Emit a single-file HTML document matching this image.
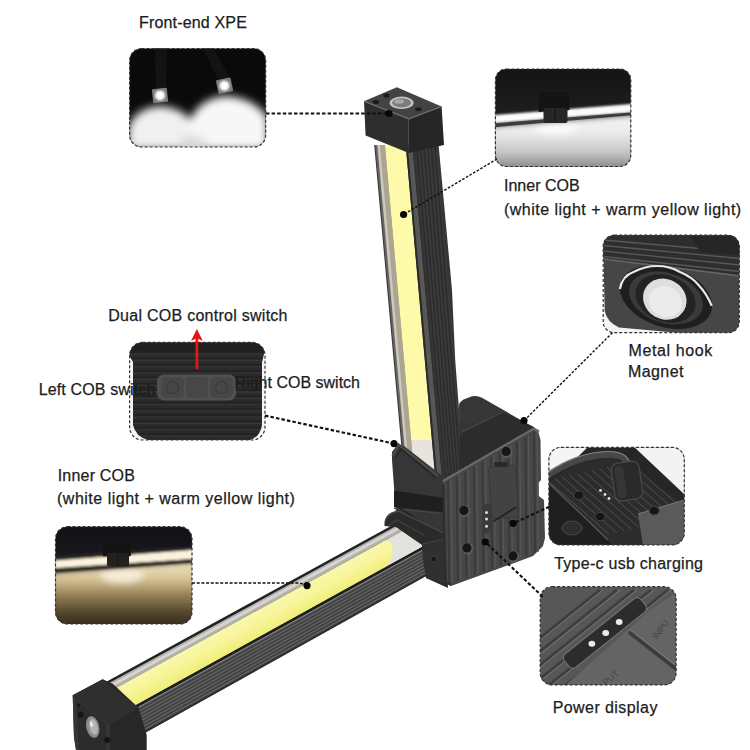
<!DOCTYPE html>
<html><head><meta charset="utf-8"><style>
html,body{margin:0;padding:0;background:#fff;}
svg{display:block;}
text{font-family:"Liberation Sans",sans-serif;font-size:16px;fill:#1c1c1c;stroke:#1c1c1c;stroke-width:0.25px;}
</style></head><body>
<svg width="750" height="750" viewBox="0 0 750 750">
<defs><filter id="blur4" x="-50%" y="-50%" width="200%" height="200%"><feGaussianBlur stdDeviation="6"/></filter>
<filter id="blur2"><feGaussianBlur stdDeviation="2"/></filter>
<filter id="blur1" x="-20%" y="-20%" width="140%" height="140%"><feGaussianBlur stdDeviation="0.8"/></filter>
<filter id="blur3" x="-20%" y="-20%" width="140%" height="140%"><feGaussianBlur stdDeviation="3"/></filter>
<filter id="blur5" x="-30%" y="-30%" width="160%" height="160%"><feGaussianBlur stdDeviation="4.5"/></filter>
<filter id="blur6" x="-50%" y="-50%" width="200%" height="200%"><feGaussianBlur stdDeviation="7"/></filter></defs>
<rect width="750" height="750" fill="#fff"/>
<defs>
<linearGradient id="ribV" x1="0" x2="1" y1="0" y2="0"><stop offset="0" stop-color="#4a4a4a"/><stop offset="0.15" stop-color="#333"/><stop offset="1" stop-color="#2a2a2a"/></linearGradient>
<linearGradient id="yelV" x1="0" x2="0" y1="0" y2="1"><stop offset="0" stop-color="#f3ec9c"/><stop offset="0.85" stop-color="#f2e98e"/><stop offset="1" stop-color="#e9e6d8"/></linearGradient>
<linearGradient id="yelD" gradientUnits="userSpaceOnUse" x1="260" y1="606" x2="272.5" y2="629"><stop offset="0" stop-color="#faf8b0"/><stop offset="0.5" stop-color="#f8f59c"/><stop offset="1" stop-color="#f0ee7c"/></linearGradient>
</defs>
<polygon points="374.2,145.0 438.6,145.0 452.0,290.0 455.2,360.0 462.8,460.0 464.0,480.0 404.4,480.0" fill="#363636"/>
<polygon points="375.2,145.0 384.9,145.0 414.7,480.0 405.4,480.0" fill="#666462"/>
<polygon points="377.2,145.0 384.9,145.0 414.7,480.0 407.4,480.0" fill="#aca591"/>
<polygon points="377.6,145.0 379.9,145.0 410.0,480.0 407.8,480.0" fill="#cdc9c0"/>
<polygon points="384.9,145.0 405.7,145.0 431.9,440.0 411.1,440.0" fill="#fdfbaa"/>
<polygon points="411.1,440.0 431.9,440.0 435.5,480.0 414.7,480.0" fill="#e6e4dc"/>
<polygon points="405.7,145.0 407.7,145.0 437.5,480.0 435.5,480.0" fill="#2a2a2a"/>
<polygon points="407.7,145.0 412.4,145.0 442.2,480.0 437.5,480.0" fill="#575757"/>
<polygon points="412.4,145.0 413.4,145.0 443.2,480.0 442.2,480.0" fill="#2e2e2e"/>
<line x1="416.6" y1="145" x2="445.7" y2="480" stroke="#2a2a2a" stroke-width="1.1"/>
<line x1="418.2" y1="145" x2="447.3" y2="480" stroke="#3f3f3f" stroke-width="0.8"/>
<line x1="420.2" y1="145" x2="448.8" y2="480" stroke="#2a2a2a" stroke-width="1.1"/>
<line x1="421.8" y1="145" x2="450.4" y2="480" stroke="#3f3f3f" stroke-width="0.8"/>
<line x1="423.9" y1="145" x2="451.8" y2="480" stroke="#2a2a2a" stroke-width="1.1"/>
<line x1="425.5" y1="145" x2="453.4" y2="480" stroke="#3f3f3f" stroke-width="0.8"/>
<line x1="427.6" y1="145" x2="454.9" y2="480" stroke="#2a2a2a" stroke-width="1.1"/>
<line x1="429.2" y1="145" x2="456.5" y2="480" stroke="#3f3f3f" stroke-width="0.8"/>
<line x1="431.3" y1="145" x2="457.9" y2="480" stroke="#2a2a2a" stroke-width="1.1"/>
<line x1="432.9" y1="145" x2="459.5" y2="480" stroke="#3f3f3f" stroke-width="0.8"/>
<line x1="434.9" y1="145" x2="461.0" y2="480" stroke="#2a2a2a" stroke-width="1.1"/>
<line x1="436.5" y1="145" x2="462.6" y2="480" stroke="#3f3f3f" stroke-width="0.8"/>
<polygon points="364.0,101.2 408.8,118.8 408.8,153.0 365.6,135.6" fill="#2e2e2e"/>
<polygon points="408.8,118.8 441.6,106.5 444.0,145.0 408.8,153.0" fill="#262626"/>
<polygon points="364.0,101.2 396.8,87.3 441.6,106.5 408.8,118.8" fill="#434343"/>
<polyline points="364.0,101.2 408.8,118.8 441.6,106.5" fill="none" stroke="#707070" stroke-width="1.2"/>
<ellipse cx="401.6" cy="102.8" rx="12" ry="6.2" fill="#c4c4c4"/><ellipse cx="401.6" cy="102.8" rx="9.5" ry="4.6" fill="#7c7c7c"/><ellipse cx="399" cy="101.5" rx="5" ry="2.2" fill="#a8a8a8"/>
<ellipse cx="376" cy="102" rx="3.2" ry="2" fill="#1a1a1a"/><ellipse cx="386.4" cy="95.6" rx="3.2" ry="2" fill="#1a1a1a"/><ellipse cx="418.4" cy="109.2" rx="3.2" ry="2" fill="#1a1a1a"/>
<polygon points="105.0,682.4 428.0,505.7 428.0,574.7 105.0,755.0" fill="#222"/>
<polygon points="105.0,685.3 428.0,508.5 428.0,516.7 105.0,694.0" fill="#b4b2ac"/>
<polygon points="105.0,687.5 428.0,510.5 428.0,513.6 105.0,690.7" fill="#d8d6d2"/>
<polygon points="383.0,541.4 428.0,516.7 428.0,543.7 383.0,568.5" fill="#e2e2de"/>
<polygon points="105.0,694.0 383.0,541.4 384.5,540.8 386.0,540.5 387.4,540.5 388.7,540.9 389.8,541.7 390.8,542.7 391.6,544.1 392.2,545.8 392.5,547.6 392.6,549.7 392.5,551.9 392.2,554.1 391.6,556.4 390.8,558.7 389.8,560.8 388.7,562.8 387.4,564.7 386.0,566.2 384.5,567.6 383.0,568.5 105.0,722.3" fill="url(#yelD)"/>
<polygon points="105.0,722.3 428.0,543.7 428.0,546.4 105.0,725.2" fill="#1e1e1c"/>
<polygon points="105.0,725.2 428.0,546.4 428.0,574.7 105.0,755.0" fill="#535353"/>
<line x1="105" y1="728.4" x2="428" y2="549.5" stroke="#3e3e3e" stroke-width="1.3"/>
<line x1="105" y1="730.0" x2="428" y2="551.1" stroke="#6a6a6a" stroke-width="0.8"/>
<line x1="105" y1="732.0" x2="428" y2="552.9" stroke="#3e3e3e" stroke-width="1.3"/>
<line x1="105" y1="733.6" x2="428" y2="554.5" stroke="#6a6a6a" stroke-width="0.8"/>
<line x1="105" y1="735.5" x2="428" y2="556.2" stroke="#3e3e3e" stroke-width="1.3"/>
<line x1="105" y1="737.1" x2="428" y2="557.8" stroke="#6a6a6a" stroke-width="0.8"/>
<line x1="105" y1="739.0" x2="428" y2="559.6" stroke="#3e3e3e" stroke-width="1.3"/>
<line x1="105" y1="740.6" x2="428" y2="561.2" stroke="#6a6a6a" stroke-width="0.8"/>
<line x1="105" y1="742.6" x2="428" y2="562.9" stroke="#3e3e3e" stroke-width="1.3"/>
<line x1="105" y1="744.2" x2="428" y2="564.5" stroke="#6a6a6a" stroke-width="0.8"/>
<line x1="105" y1="746.1" x2="428" y2="566.3" stroke="#3e3e3e" stroke-width="1.3"/>
<line x1="105" y1="747.7" x2="428" y2="567.9" stroke="#6a6a6a" stroke-width="0.8"/>
<line x1="105" y1="749.6" x2="428" y2="569.7" stroke="#3e3e3e" stroke-width="1.3"/>
<line x1="105" y1="751.2" x2="428" y2="571.3" stroke="#6a6a6a" stroke-width="0.8"/>
<line x1="105" y1="753.2" x2="428" y2="573.0" stroke="#3e3e3e" stroke-width="1.3"/>
<line x1="105" y1="754.8" x2="428" y2="574.6" stroke="#6a6a6a" stroke-width="0.8"/>
<line x1="105" y1="725.9" x2="428" y2="547.1" stroke="#8a8a8e" stroke-width="1"/>
<polygon points="105.0,753.5 428.0,573.2 428.0,574.7 105.0,755.0" fill="#2a2a2a"/>
<polygon points="72.7,695.3 102.7,679.3 113.0,684.0 138.7,708.0 146.7,735.0 146.7,750.0 76.0,750.0 74.0,737.0" fill="#272727"/>
<polygon points="72.7,695.3 102.7,679.3 138.7,708.0 110.0,725.3" fill="#2f2f2f"/>
<polygon points="72.7,695.3 110.0,725.3 110.0,750.0 76.0,750.0 74.0,737.0" fill="#353535"/>
<polygon points="76.0,700.0 106.0,724.0 106.0,750.0 79.0,750.0 78.0,737.0" fill="#2c2c2c"/>
<ellipse cx="92.7" cy="727" rx="6.5" ry="11" fill="#8c8c8c" transform="rotate(-12 92.7 727)"/><ellipse cx="93.5" cy="727" rx="4" ry="8" fill="#b4b4b4" transform="rotate(-12 92.7 727)"/><ellipse cx="92" cy="724" rx="1.5" ry="3" fill="#e6e6e6" transform="rotate(-12 92.7 727)"/>
<circle cx="80.7" cy="714.7" r="3" fill="#141414"/><circle cx="107.3" cy="740" r="3" fill="#141414"/><circle cx="78.7" cy="705.3" r="1.6" fill="#141414"/>
<polygon points="392.0,452.0 398.0,444.0 404.0,446.0 440.0,474.0 448.0,480.0 448.0,540.0 396.0,514.0 392.0,460.0" fill="#363636"/>
<polygon points="394.0,490.4 441.4,497.6 444.0,499.0 444.0,513.0 441.4,512.0 394.0,507.2" fill="#1f1f1f"/>
<line x1="394" y1="508.5" x2="441" y2="513.5" stroke="#4a4a4a" stroke-width="1.2"/>
<polyline points="392.5,456.0 398.5,444.5 438.0,476.0" fill="none" stroke="#4a4a4a" stroke-width="2.2"/>
<polyline points="396.0,458.0 401.0,449.0 436.0,478.0" fill="none" stroke="#262626" stroke-width="1.5"/>
<line x1="397.4" y1="506.7" x2="441" y2="534.5" stroke="#222" stroke-width="1.5"/>
<path d="M384.6,526 Q383.5,519 390,514.5 Q394,511 399,510.5 L446,533 L448,588 L426,578 L422,545 L396,527 Z" fill="#2a2a2a"/>
<path d="M385.3,522 Q386,516 392,513 Q395.5,511.2 399.5,511.5 L446,534" fill="none" stroke="#464646" stroke-width="1.6"/>
<polyline points="388.0,526.0 397.0,520.0 424.0,535.0" fill="none" stroke="#3a3a3a" stroke-width="2"/>
<polygon points="422.0,544.0 443.0,539.0 447.0,541.0 447.5,584.0 426.0,578.0 423.0,560.0" fill="#303030"/>
<line x1="422.5" y1="544" x2="443" y2="539" stroke="#444" stroke-width="1.2"/>
<circle cx="433.7" cy="559" r="2.6" fill="#151515" stroke="#444" stroke-width="0.8"/>
<path d="M459,405 Q459.5,401 466,398.5 L472,396.3 Q477,395 482,397.8 L533,427 L536,445 L460,478 Z" fill="#363636"/>
<polygon points="460.0,433.0 503.0,412.0 534.0,427.0 536.0,445.0 460.0,478.0" fill="#2c2c2c"/>
<line x1="461" y1="432.5" x2="503" y2="412" stroke="#484848" stroke-width="1.3"/>
<polygon points="442.0,481.0 534.0,428.0 538.0,430.5 540.5,440.0 541.0,480.0 538.8,482.5 538.8,496.0 544.0,500.0 545.0,538.0 543.0,546.0 533.0,556.0 517.0,562.0 451.0,586.0 447.0,582.0 444.0,490.0" fill="#474747"/>
<line x1="448.0" y1="481.6" x2="449.2" y2="584.1" stroke="#393939" stroke-width="1.8"/>
<line x1="451.0" y1="479.8" x2="452.2" y2="583.0" stroke="#575757" stroke-width="1.2"/>
<line x1="456.6" y1="476.6" x2="457.8" y2="581.0" stroke="#393939" stroke-width="1.8"/>
<line x1="459.6" y1="474.9" x2="460.8" y2="579.9" stroke="#575757" stroke-width="1.2"/>
<line x1="465.2" y1="471.7" x2="466.4" y2="577.9" stroke="#393939" stroke-width="1.8"/>
<line x1="468.2" y1="469.9" x2="469.4" y2="576.8" stroke="#575757" stroke-width="1.2"/>
<line x1="473.8" y1="466.7" x2="475.0" y2="574.8" stroke="#393939" stroke-width="1.8"/>
<line x1="476.8" y1="465.0" x2="478.0" y2="573.7" stroke="#575757" stroke-width="1.2"/>
<line x1="482.4" y1="461.8" x2="483.6" y2="571.7" stroke="#393939" stroke-width="1.8"/>
<line x1="485.4" y1="460.0" x2="486.6" y2="570.6" stroke="#575757" stroke-width="1.2"/>
<line x1="491.0" y1="456.8" x2="492.2" y2="568.6" stroke="#393939" stroke-width="1.8"/>
<line x1="494.0" y1="455.1" x2="495.2" y2="567.5" stroke="#575757" stroke-width="1.2"/>
<line x1="499.6" y1="451.9" x2="500.8" y2="565.5" stroke="#393939" stroke-width="1.8"/>
<line x1="502.6" y1="450.2" x2="503.8" y2="564.4" stroke="#575757" stroke-width="1.2"/>
<line x1="508.2" y1="446.9" x2="509.4" y2="562.4" stroke="#393939" stroke-width="1.8"/>
<line x1="511.2" y1="445.2" x2="512.4" y2="561.3" stroke="#575757" stroke-width="1.2"/>
<line x1="516.8" y1="442.0" x2="518.0" y2="559.3" stroke="#393939" stroke-width="1.8"/>
<line x1="519.8" y1="440.3" x2="521.0" y2="558.2" stroke="#575757" stroke-width="1.2"/>
<line x1="525.4" y1="437.0" x2="526.6" y2="556.2" stroke="#393939" stroke-width="1.8"/>
<line x1="528.4" y1="435.3" x2="529.6" y2="555.1" stroke="#575757" stroke-width="1.2"/>
<line x1="534.0" y1="432.1" x2="535.2" y2="553.1" stroke="#393939" stroke-width="1.8"/>
<line x1="537.0" y1="430.4" x2="538.2" y2="552.0" stroke="#575757" stroke-width="1.2"/>
<polyline points="443.0,481.0 534.0,428.5 539.0,431.5" fill="none" stroke="#6a6a6a" stroke-width="2.2"/>
<polyline points="443.5,484.0 445.0,582.0 451.0,585.0" fill="none" stroke="#2e2e2e" stroke-width="2"/>
<circle cx="506.7" cy="452" r="6" fill="#5a5a5a"/><circle cx="506.09999999999997" cy="451.4" r="4.6" fill="#161616"/>
<circle cx="464.5" cy="511" r="6" fill="#5a5a5a"/><circle cx="463.9" cy="510.4" r="4.6" fill="#161616"/>
<circle cx="467.5" cy="548.5" r="6" fill="#5a5a5a"/><circle cx="466.9" cy="547.9" r="4.6" fill="#161616"/>
<circle cx="513.5" cy="556.5" r="6" fill="#5a5a5a"/><circle cx="512.9" cy="555.9" r="4.6" fill="#161616"/>
<rect x="482" y="504" width="9" height="29" rx="3.5" fill="#3b3b3b"/>
<circle cx="486.5" cy="512.4" r="1.5" fill="#ddd"/>
<circle cx="486.5" cy="519" r="1.5" fill="#ddd"/>
<circle cx="486.5" cy="526.2" r="1.5" fill="#ddd"/>
<rect x="490" y="466" width="27" height="52" rx="4" fill="#434343" stroke="#393939" stroke-width="1.1" transform="rotate(-4 503 492)"/>
<rect x="494" y="462" width="14" height="5" rx="2" fill="#2a2a2a"/>
<line x1="493.6" y1="521.2" x2="516.8" y2="506.8" stroke="#222" stroke-width="1.8"/>
<defs>
<clipPath id="cXPE"><rect x="129.6" y="48.6" width="136.1" height="98.4" rx="12"/></clipPath>
<clipPath id="cCOB1"><rect x="495.4" y="69" width="135.4" height="97.5" rx="11"/></clipPath>
<clipPath id="cMag"><rect x="603.2" y="235.2" width="136.1" height="97.5" rx="11"/></clipPath>
<clipPath id="cSw"><rect x="129.6" y="342.4" width="135.4" height="97.6" rx="13"/></clipPath>
<clipPath id="cCOB2"><rect x="55.5" y="526.7" width="136.5" height="97.3" rx="12"/></clipPath>
<clipPath id="cTyc"><rect x="548.9" y="447.4" width="135.4" height="97.5" rx="12"/></clipPath>
<clipPath id="cPow"><rect x="540.2" y="586.7" width="135.9" height="98.2" rx="12"/></clipPath>
<radialGradient id="gl1" cx="0.5" cy="0.3" r="0.6"><stop offset="0" stop-color="#fff"/><stop offset="0.5" stop-color="#f0f0f0"/><stop offset="1" stop-color="#fff" stop-opacity="0"/></radialGradient>
<linearGradient id="xpeBg" x1="0" x2="0" y1="0" y2="1"><stop offset="0" stop-color="#0c0c0c"/><stop offset="0.5" stop-color="#111"/><stop offset="1" stop-color="#666"/></linearGradient>
<linearGradient id="cob1Bot" x1="0" x2="0" y1="0" y2="1"><stop offset="0" stop-color="#f2f2f2"/><stop offset="0.3" stop-color="#ededed"/><stop offset="0.65" stop-color="#c8c8c8"/><stop offset="1" stop-color="#7a7a7a"/></linearGradient>
<linearGradient id="cob1Top" x1="0" x2="0" y1="0" y2="1"><stop offset="0" stop-color="#141414"/><stop offset="0.45" stop-color="#1e1e1e"/><stop offset="0.55" stop-color="#2a2a2a"/><stop offset="1" stop-color="#333"/></linearGradient>
<linearGradient id="cob2Top" x1="0" x2="0" y1="0" y2="1"><stop offset="0" stop-color="#111116"/><stop offset="0.35" stop-color="#1a1920"/><stop offset="1" stop-color="#2a2620"/></linearGradient>
<linearGradient id="cob2Bot" x1="0" x2="0" y1="0" y2="1"><stop offset="0" stop-color="#f2e6c6"/><stop offset="0.25" stop-color="#d8c698"/><stop offset="0.5" stop-color="#947f54"/><stop offset="0.75" stop-color="#50442c"/><stop offset="1" stop-color="#2a241a"/></linearGradient>
<linearGradient id="swBg" x1="0" x2="0" y1="0" y2="1"><stop offset="0" stop-color="#2a2a2a"/><stop offset="1" stop-color="#333"/></linearGradient>
</defs>
<g clip-path="url(#cXPE)">
<rect x="129" y="48" width="138" height="100" fill="#0a0a0a"/>
<g filter="url(#blur5)">
<path d="M128,150 L128,128 Q135,108 160,106 Q185,108 194,125 L196,150 Z" fill="#f0f0f0"/>
<path d="M188,150 L190,120 Q200,98 226,96 Q255,98 268,118 L268,150 Z" fill="#f7f7f7"/>
<ellipse cx="193" cy="146" rx="14" ry="10" fill="#d8d8d8"/>
</g>
<polygon points="155,48 167,48 166,90 156,92" fill="#131313"/>
<polygon points="203,48 213,48 231,80 220,84" fill="#131313"/>
<rect x="152.5" y="88.5" width="15" height="14" rx="1" fill="#7a7a7a" transform="rotate(-6 160 95.4)"/><circle cx="160" cy="95.4" r="5" fill="#fff" filter="url(#blur1)"/>
<rect x="217" y="78.7" width="15" height="14" rx="1" fill="#7a7a7a" transform="rotate(-12 224.4 85.7)"/><circle cx="224.4" cy="85.7" r="5" fill="#fff" filter="url(#blur1)"/>
</g>
<g clip-path="url(#cCOB1)">
<rect x="495" y="69" width="137" height="98" fill="url(#cob1Top)"/>
<g filter="url(#blur3)">
<polygon points="490,126 636,114 636,172 490,172" fill="url(#cob1Bot)"/>
<ellipse cx="556" cy="128" rx="22" ry="7" fill="#fafafa"/>
</g>
<g filter="url(#blur1)">
<polygon points="490,115.5 636,103.5 636,112 490,123.5" fill="#fbfbfb"/>
</g>
<polygon points="490,123.8 636,112 636,114.8 490,127.6" fill="#3c3c3c"/>
<path d="M538.5,95 Q540,92 545,92 L566,92 Q569.5,92 569.5,96 L569.5,110 L538.5,112 Z" fill="#141414"/><rect x="543.5" y="108" width="24" height="15" rx="2" fill="#262626"/><line x1="555" y1="109" x2="555" y2="122" stroke="#111" stroke-width="1"/>
</g>
<g clip-path="url(#cMag)">
<rect x="603" y="235" width="137" height="98" fill="#f4f4f4"/>
<path d="M603,235 H740 V333 H680 L619,327.6 Q607,322 604.7,311 Z" fill="#464646"/>
<polygon points="603,235 740,235 740,275 603,258" fill="#2e2e2e"/>
<line x1="603" y1="240" x2="740" y2="252" stroke="#585858" stroke-width="1.3"/>
<line x1="603" y1="245.5" x2="740" y2="258.5" stroke="#585858" stroke-width="1.3"/>
<line x1="603" y1="251" x2="740" y2="265" stroke="#585858" stroke-width="1.3"/>
<line x1="603" y1="256.5" x2="740" y2="271.5" stroke="#585858" stroke-width="1.3"/>
<line x1="603" y1="259" x2="740" y2="276" stroke="#666" stroke-width="1.5"/>
<polygon points="690,236 740,236 740,255 700,252" fill="#262626"/>
<ellipse cx="666" cy="297" rx="47.5" ry="30" fill="#1f1f1f" transform="rotate(18 666 297)"/>
<ellipse cx="666" cy="298" rx="38" ry="25" fill="#3a3a3a" transform="rotate(18 666 298)"/>
<ellipse cx="665.5" cy="298.5" rx="31" ry="23" fill="#232323" transform="rotate(22 665.5 298.5)"/>
<path d="M619.9,289 Q622,276 634,271.8 Q645,266 656.8,266 Q670,266 679.5,271.8 Q692,277 698.5,285 Q707,294 711.7,305.9" fill="none" stroke="#e8e8e8" stroke-width="2.2"/>
<ellipse cx="664.8" cy="299.2" rx="22.3" ry="20" fill="#dedede" transform="rotate(30 664.8 299.2)"/>
<ellipse cx="666.5" cy="301" rx="17" ry="15" fill="#ebebeb" transform="rotate(30 664.8 299.2)"/>
</g>
<clipPath id="cSwIn"><path d="M129,342 H265 V350 L262,362 V425 Q260,437 250,440 H148 Q136,437 133,425 V362 L129,355 Z"/></clipPath>
<g clip-path="url(#cSw)">
<rect x="129" y="342" width="137" height="99" fill="#f5f5f5"/>
<path d="M129,342 H265 V350 L262,362 V425 Q260,437 250,440 H148 Q136,437 133,425 V362 L129,355 Z" fill="#2b2b2b"/>
<g clip-path="url(#cSwIn)">
<rect x="129" y="342" width="137" height="9" fill="#1f1f1f"/>
<line x1="129" y1="352.0" x2="265" y2="352.0" stroke="#222" stroke-width="1.5"/>
<line x1="129" y1="354.2" x2="265" y2="354.2" stroke="#383838" stroke-width="1"/>
<line x1="129" y1="358.3" x2="265" y2="358.3" stroke="#222" stroke-width="1.5"/>
<line x1="129" y1="360.5" x2="265" y2="360.5" stroke="#383838" stroke-width="1"/>
<line x1="129" y1="364.6" x2="265" y2="364.6" stroke="#222" stroke-width="1.5"/>
<line x1="129" y1="366.8" x2="265" y2="366.8" stroke="#383838" stroke-width="1"/>
<line x1="129" y1="370.9" x2="265" y2="370.9" stroke="#222" stroke-width="1.5"/>
<line x1="129" y1="373.1" x2="265" y2="373.1" stroke="#383838" stroke-width="1"/>
<line x1="129" y1="377.2" x2="265" y2="377.2" stroke="#222" stroke-width="1.5"/>
<line x1="129" y1="379.4" x2="265" y2="379.4" stroke="#383838" stroke-width="1"/>
<line x1="129" y1="383.5" x2="265" y2="383.5" stroke="#222" stroke-width="1.5"/>
<line x1="129" y1="385.7" x2="265" y2="385.7" stroke="#383838" stroke-width="1"/>
<line x1="129" y1="389.8" x2="265" y2="389.8" stroke="#222" stroke-width="1.5"/>
<line x1="129" y1="392.0" x2="265" y2="392.0" stroke="#383838" stroke-width="1"/>
<line x1="129" y1="396.1" x2="265" y2="396.1" stroke="#222" stroke-width="1.5"/>
<line x1="129" y1="398.3" x2="265" y2="398.3" stroke="#383838" stroke-width="1"/>
<line x1="129" y1="402.4" x2="265" y2="402.4" stroke="#222" stroke-width="1.5"/>
<line x1="129" y1="404.6" x2="265" y2="404.6" stroke="#383838" stroke-width="1"/>
<line x1="129" y1="408.7" x2="265" y2="408.7" stroke="#222" stroke-width="1.5"/>
<line x1="129" y1="410.9" x2="265" y2="410.9" stroke="#383838" stroke-width="1"/>
<line x1="129" y1="415.0" x2="265" y2="415.0" stroke="#222" stroke-width="1.5"/>
<line x1="129" y1="417.2" x2="265" y2="417.2" stroke="#383838" stroke-width="1"/>
<line x1="129" y1="421.3" x2="265" y2="421.3" stroke="#222" stroke-width="1.5"/>
<line x1="129" y1="423.5" x2="265" y2="423.5" stroke="#383838" stroke-width="1"/>
<line x1="129" y1="427.6" x2="265" y2="427.6" stroke="#222" stroke-width="1.5"/>
<line x1="129" y1="429.8" x2="265" y2="429.8" stroke="#383838" stroke-width="1"/>
<line x1="129" y1="433.9" x2="265" y2="433.9" stroke="#222" stroke-width="1.5"/>
<line x1="129" y1="436.1" x2="265" y2="436.1" stroke="#383838" stroke-width="1"/>
</g>
<rect x="157" y="374.5" width="79" height="26" rx="7" fill="#505050"/>
<rect x="161" y="377" width="23" height="21" rx="5" fill="#474747"/><rect x="186" y="377" width="22" height="21" rx="3" fill="#474747"/><rect x="210" y="377" width="23" height="21" rx="5" fill="#474747"/>
<circle cx="172.5" cy="387.5" r="6" fill="none" stroke="#3a3a3a" stroke-width="1.2"/><circle cx="221.5" cy="387.5" r="6" fill="none" stroke="#3a3a3a" stroke-width="1.2"/>
</g>
<g clip-path="url(#cCOB2)">
<rect x="55" y="526" width="138" height="99" fill="url(#cob2Top)"/>
<g filter="url(#blur3)">
<polygon points="50,572 197,561 197,630 50,630" fill="url(#cob2Bot)"/>
<ellipse cx="122" cy="575" rx="22" ry="8" fill="#f6ecd4"/>
</g>
<g filter="url(#blur1)">
<polygon points="50,556.5 197,546 197,549.5 50,560.5" fill="#2a2722"/>
<polygon points="50,561 197,549.5 197,558.5 50,568.5" fill="#faf2dc"/>
<polygon points="50,569 197,558.8 197,562 50,573" fill="#2e2a22"/>
</g>
<rect x="102.9" y="539.3" width="28" height="17" rx="1" fill="#151414"/><rect x="107" y="553" width="22" height="13.5" rx="2" fill="#23211e"/><line x1="118" y1="554" x2="118" y2="566" stroke="#151515" stroke-width="1"/>
</g>
<g clip-path="url(#cTyc)">
<rect x="548" y="447" width="137" height="98" fill="#262626"/>
<polygon points="549,482 575,462 612,456 684,503 684,522 640,545 612,545" fill="#2c2c2c"/>
<line x1="547.0" y1="480.0" x2="609.0" y2="534.0" stroke="#505050" stroke-width="1"/>
<line x1="554.5" y1="478.4" x2="616.5" y2="532.4" stroke="#505050" stroke-width="1"/>
<line x1="562.0" y1="476.8" x2="624.0" y2="530.8" stroke="#505050" stroke-width="1"/>
<line x1="569.5" y1="475.2" x2="631.5" y2="529.2" stroke="#505050" stroke-width="1"/>
<line x1="577.0" y1="473.6" x2="639.0" y2="527.6" stroke="#505050" stroke-width="1"/>
<line x1="584.5" y1="472.0" x2="646.5" y2="526.0" stroke="#505050" stroke-width="1"/>
<line x1="592.0" y1="470.4" x2="654.0" y2="524.4" stroke="#505050" stroke-width="1"/>
<line x1="599.5" y1="468.8" x2="661.5" y2="522.8" stroke="#505050" stroke-width="1"/>
<line x1="607.0" y1="467.2" x2="669.0" y2="521.2" stroke="#505050" stroke-width="1"/>
<line x1="614.5" y1="465.6" x2="676.5" y2="519.6" stroke="#505050" stroke-width="1"/>
<line x1="622.0" y1="464.0" x2="684.0" y2="518.0" stroke="#505050" stroke-width="1"/>
<line x1="629.5" y1="462.4" x2="691.5" y2="516.4" stroke="#505050" stroke-width="1"/>
<polygon points="548,486 603,535 612,545 548,545" fill="#1f1f1f"/>
<line x1="549" y1="483" x2="608" y2="540" stroke="#5a5a5a" stroke-width="1.2"/>
<ellipse cx="572" cy="528" rx="10" ry="7" fill="#2e2e2e" stroke="#484848" stroke-width="1"/>
<polygon points="638,514 684,500 684,545 643,545" fill="#5a5a5a"/>
<line x1="638" y1="514" x2="684" y2="500" stroke="#777" stroke-width="1"/>
<polygon points="545,444 591,444 575,459.5 549,472 545,473" fill="#f5f5f5"/>
<polygon points="631,444 690,444 690,496 684,494" fill="#f3f3f3"/>
<path d="M545,477.5 C565,463 588,455 608,454.5 C622,454 628,459 628,469" fill="none" stroke="#474747" stroke-width="6.5"/>
<path d="M545,474.5 C565,460 588,452 608,451.5 C620,451.3 627,455 629.5,462" fill="none" stroke="#858585" stroke-width="1.1"/>
<rect x="613" y="462" width="28" height="38" rx="7" fill="#2a2a2a" stroke="#4a4a4a" stroke-width="1.2" transform="rotate(-8 627 481)"/>
<rect x="616" y="465" width="9" height="32" rx="4" fill="#363636" transform="rotate(-8 627 481)"/>
<ellipse cx="578.8" cy="495.2" rx="5" ry="4.2" fill="#161616" stroke="#444" stroke-width="1"/>
<ellipse cx="600.1" cy="516.5" rx="5" ry="4.2" fill="#161616" stroke="#444" stroke-width="1"/>
<ellipse cx="654.2" cy="510.7" rx="5" ry="4.2" fill="#161616" stroke="#444" stroke-width="1"/>
<circle cx="600.5" cy="490.5" r="1.4" fill="#e0e0e0"/>
<circle cx="605" cy="494.5" r="1.4" fill="#e0e0e0"/>
<circle cx="609" cy="498.5" r="1.4" fill="#e0e0e0"/>
</g>
<g clip-path="url(#cPow)">
<rect x="540" y="586" width="137" height="99" fill="#575757"/>
<line x1="480" y1="686" x2="600" y2="590" stroke="#3f3f3f" stroke-width="3"/>
<line x1="483" y1="686" x2="603" y2="590" stroke="#7a7a7a" stroke-width="1"/>
<line x1="497" y1="686" x2="617" y2="590" stroke="#3f3f3f" stroke-width="3"/>
<line x1="500" y1="686" x2="620" y2="590" stroke="#7a7a7a" stroke-width="1"/>
<line x1="514" y1="686" x2="634" y2="590" stroke="#3f3f3f" stroke-width="3"/>
<line x1="517" y1="686" x2="637" y2="590" stroke="#7a7a7a" stroke-width="1"/>
<line x1="531" y1="686" x2="651" y2="590" stroke="#3f3f3f" stroke-width="3"/>
<line x1="534" y1="686" x2="654" y2="590" stroke="#7a7a7a" stroke-width="1"/>
<line x1="548" y1="686" x2="668" y2="590" stroke="#3f3f3f" stroke-width="3"/>
<line x1="551" y1="686" x2="671" y2="590" stroke="#7a7a7a" stroke-width="1"/>
<line x1="565" y1="686" x2="685" y2="590" stroke="#3f3f3f" stroke-width="3"/>
<line x1="568" y1="686" x2="688" y2="590" stroke="#7a7a7a" stroke-width="1"/>
<line x1="582" y1="686" x2="702" y2="590" stroke="#3f3f3f" stroke-width="3"/>
<line x1="585" y1="686" x2="705" y2="590" stroke="#7a7a7a" stroke-width="1"/>
<line x1="599" y1="686" x2="719" y2="590" stroke="#3f3f3f" stroke-width="3"/>
<line x1="602" y1="686" x2="722" y2="590" stroke="#7a7a7a" stroke-width="1"/>
<line x1="616" y1="686" x2="736" y2="590" stroke="#3f3f3f" stroke-width="3"/>
<line x1="619" y1="686" x2="739" y2="590" stroke="#7a7a7a" stroke-width="1"/>
<polygon points="560,690 650,610 680,590 680,690" fill="#646464"/>
<line x1="628.8" y1="632" x2="680" y2="672" stroke="#3c3c3c" stroke-width="3.5"/>
<line x1="630" y1="629.5" x2="680" y2="668.5" stroke="#7a7a7a" stroke-width="1"/>
<rect x="556" y="624.5" width="98" height="17" rx="5" fill="#2c2c2c" stroke="#777" stroke-width="1" transform="rotate(-38.6 605 633)"/>
<ellipse cx="591.9" cy="643.7" rx="3.4" ry="3" fill="#ececec"/>
<ellipse cx="605.7" cy="633" rx="3.4" ry="3" fill="#ececec"/>
<ellipse cx="619.2" cy="621.9" rx="3.4" ry="3" fill="#ececec"/>
<text x="0" y="0" transform="translate(657 640) rotate(-55)" style="font-size:9px;fill:#444;stroke:none">INPU</text>
<text x="0" y="0" transform="translate(606 686) rotate(-42)" style="font-size:9px;fill:#444;stroke:none">PUT</text>
</g>
<rect x="129.6" y="48.6" width="136.1" height="98.4" rx="12" fill="none" stroke="#333" stroke-width="1.2" stroke-dasharray="3 2"/>
<rect x="495.4" y="69" width="135.4" height="97.5" rx="11" fill="none" stroke="#333" stroke-width="1.2" stroke-dasharray="3 2"/>
<rect x="603.2" y="235.2" width="136.1" height="97.5" rx="11" fill="none" stroke="#333" stroke-width="1.2" stroke-dasharray="3 2"/>
<rect x="129.6" y="342.4" width="135.4" height="97.6" rx="13" fill="none" stroke="#333" stroke-width="1.2" stroke-dasharray="3 2"/>
<rect x="55.5" y="526.7" width="136.5" height="97.3" rx="12" fill="none" stroke="#333" stroke-width="1.2" stroke-dasharray="3 2"/>
<rect x="548.9" y="447.4" width="135.4" height="97.5" rx="12" fill="none" stroke="#333" stroke-width="1.2" stroke-dasharray="3 2"/>
<rect x="540.2" y="586.7" width="135.9" height="98.2" rx="12" fill="none" stroke="#333" stroke-width="1.2" stroke-dasharray="3 2"/>
<polyline points="266.0,113.5 389.0,113.5" fill="none" stroke="#111" stroke-width="2" stroke-dasharray="3.5 2.1"/>
<polyline points="497.0,159.0 403.6,214.5" fill="none" stroke="#111" stroke-width="1.4" stroke-dasharray="2.6 1.6"/>
<polyline points="612.4,332.7 524.0,420.7" fill="none" stroke="#111" stroke-width="1.4" stroke-dasharray="2.6 1.6"/>
<polyline points="265.0,415.6 394.0,443.6" fill="none" stroke="#111" stroke-width="2.2" stroke-dasharray="3.5 2.1"/>
<polyline points="549.3,506.7 513.1,523.5" fill="none" stroke="#111" stroke-width="2.1" stroke-dasharray="3.5 2.1"/>
<polyline points="542.7,596.7 485.2,542.0" fill="none" stroke="#111" stroke-width="2.1" stroke-dasharray="3.5 2.1"/>
<polyline points="192.0,583.0 300.0,583.0 307.0,585.6" fill="none" stroke="#111" stroke-width="1.4" stroke-dasharray="3 1.7"/>
<circle cx="389" cy="113.5" r="3.6" fill="#080808"/>
<circle cx="403.6" cy="214.5" r="3.6" fill="#080808"/>
<circle cx="524" cy="420.7" r="3.6" fill="#080808"/>
<circle cx="394" cy="443.6" r="3.6" fill="#080808"/>
<circle cx="513.1" cy="523.3" r="3.6" fill="#080808"/>
<circle cx="485.3" cy="542" r="3.6" fill="#080808"/>
<circle cx="307" cy="585.6" r="3.6" fill="#080808"/>
<line x1="196.9" y1="369" x2="196.9" y2="337" stroke="#e41515" stroke-width="2.8"/>
<polygon points="196.9,329 202.8,341 196.9,338.3 191,341" fill="#e41515"/>
<text x="139" y="28.4" textLength="107.8" lengthAdjust="spacing">Front-end XPE</text>
<text x="504" y="191.1" textLength="75.6" lengthAdjust="spacing">Inner COB</text>
<text x="504" y="214.9" textLength="237.2" lengthAdjust="spacing">(white light + warm yellow light)</text>
<text x="628.5" y="355.6" textLength="83.7" lengthAdjust="spacing">Metal hook</text>
<text x="628" y="377" textLength="55.4" lengthAdjust="spacing">Magnet</text>
<text x="108.3" y="320.9" textLength="179.2" lengthAdjust="spacing">Dual COB control switch</text>
<text x="38.7" y="395.2" textLength="116.7" lengthAdjust="spacing">Left COB switch</text>
<text x="234.6" y="388.3" textLength="125.4" lengthAdjust="spacing">Right COB switch</text>
<text x="57.7" y="481.3" textLength="77.2" lengthAdjust="spacing">Inner COB</text>
<text x="57" y="504" textLength="237.9" lengthAdjust="spacing">(white light + warm yellow light)</text>
<text x="554.2" y="568.8" textLength="148.8" lengthAdjust="spacing">Type-c usb charging</text>
<text x="552.7" y="713" textLength="104.7" lengthAdjust="spacing">Power display</text>
</svg>
</body></html>
